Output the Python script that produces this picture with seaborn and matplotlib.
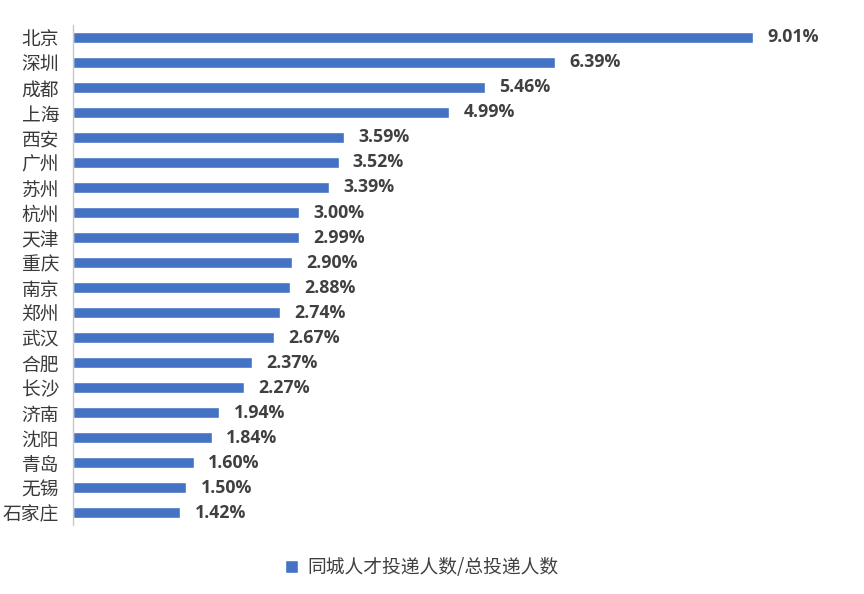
import matplotlib
matplotlib.use("Agg")
import matplotlib.pyplot as plt
import seaborn as sns
import pandas as pd

# 城市及同城人才投递占比 (%)
cities = ["北京", "深圳", "成都", "上海", "西安", "广州", "苏州", "杭州", "天津", "重庆",
          "南京", "郑州", "武汉", "合肥", "长沙", "济南", "沈阳", "青岛", "无锡", "石家庄"]
ratios = [9.01, 6.39, 5.46, 4.99, 3.59, 3.52, 3.39, 3.00, 2.99, 2.90,
          2.88, 2.74, 2.67, 2.37, 2.27, 1.94, 1.84, 1.60, 1.50, 1.42]
series_name = "同城人才投递人数/总投递人数"

df = pd.DataFrame({"city": cities, "ratio": ratios, "series": series_name})

sns.set_style("white")
plt.rcParams["font.family"] = ["Noto Sans CJK SC", "DejaVu Sans"]

fig = plt.figure(figsize=(8.64, 5.94), dpi=100)
ax = fig.add_axes([0.0845, 0.116, 0.873, 0.842])

sns.barplot(data=df, x="ratio", y="city", hue="series",
            palette=["#4472C4"], width=0.46, saturation=1, ax=ax)

ax.set_xlim(0, 10)
ax.set_ylim(19.5, -0.5)
ax.set_xlabel("")
ax.set_ylabel("")
ax.set_xticks([])
ax.tick_params(axis="y", length=0, pad=10, labelsize=13.5, labelcolor="#3a3a3a")
for s in ["top", "right", "bottom"]:
    ax.spines[s].set_visible(False)
ax.spines["left"].set_color("#c8c8c8")
ax.spines["left"].set_linewidth(1)

for i, v in enumerate(ratios):
    ax.text(v + 0.19, i, f"{v:.2f}%", va="center", ha="left",
            fontsize=12.8, fontweight="bold", color="#404040",
            family=["Open Sans", "DejaVu Sans"])

leg = ax.legend(loc="upper center", bbox_to_anchor=(0.462, -0.03), frameon=False,
                fontsize=13.5, handlelength=0.7, handleheight=0.7, handletextpad=0.5)
for t in leg.get_texts():
    t.set_color("#404040")

fig.savefig("out.png", dpi=100)
